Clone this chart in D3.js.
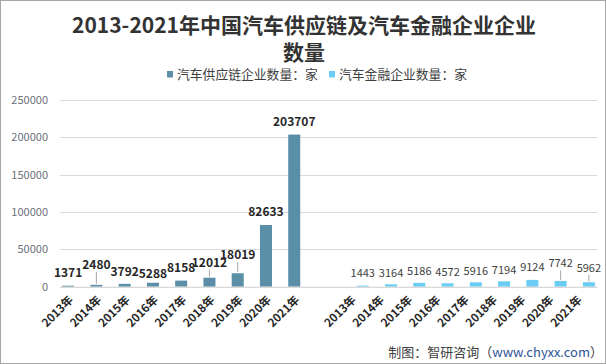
<!DOCTYPE html>
<html><head><meta charset="utf-8">
<script src="https://cdn.jsdelivr.net/npm/d3@7"></script>
<style>
html,body{margin:0;padding:0;background:#fff;}
text{font-family:"Noto Sans CJK SC","Noto Sans",sans-serif;}
</style></head>
<body><svg id="c" width="606" height="364"></svg>
<script>
const years = ["2013年","2014年","2015年","2016年","2017年","2018年","2019年","2020年","2021年"];
const supplyChain = [1371,2480,3792,5288,8158,12012,18019,82633,203707];
const autoFinance = [1443,3164,5186,4572,5916,7194,9124,7742,5962];
const seriesNames = ["汽车供应链企业数量：家","汽车金融企业数量：家"];
const yTicks = [0,50000,100000,150000,200000,250000];
const titleLines = ["2013-2021年中国汽车供应链及汽车金融企业企业","数量"];
const colors = ["#5B8FA8","#6BCDF4"];
// label placement tweaks (pixels lifted above default spot), like the moved labels in the original
const labelLift = [[0,7,-1,-4,0,2,5,0,0],[0,-1,-1,-1,-1,-1,0,5,2]];

const cats = [];
years.forEach((y,i)=>cats.push({key:"a"+i,label:y,s:0,i:i,v:supplyChain[i]}));
cats.push({key:"gap",label:"",s:-1,v:null});
years.forEach((y,i)=>cats.push({key:"b"+i,label:y,s:1,i:i,v:autoFinance[i]}));

const svg = d3.select("#c");
svg.append("rect").attr("x",0.5).attr("y",0.5).attr("width",605).attr("height",363)
  .attr("fill","#fff").attr("stroke","#a6a6a6").attr("stroke-width",1);

const L=60,R=597,T=100,B=286.7;
const x0 = d3.scaleBand().domain(cats.map(d=>d.key)).range([L,R]).paddingInner(0.15).paddingOuter(0.075);
const x1 = d3.scaleBand().domain([0,1]).range([0,x0.bandwidth()]);
const y = d3.scaleLinear().domain([0,250000]).range([B,T]);

svg.append("g").selectAll("line").data(yTicks).join("line")
  .attr("x1",L).attr("x2",R).attr("y1",d=>Math.round(y(d))+0.5).attr("y2",d=>Math.round(y(d))+0.5)
  .attr("stroke","#d9d9d9").attr("stroke-width",1);

const yAxis = d3.axisLeft(y).tickValues(yTicks).tickSize(0).tickPadding(0).tickFormat(d3.format("d"));
const ga = svg.append("g").attr("transform",`translate(${L-12},0)`).call(yAxis);
ga.select(".domain").remove();
ga.selectAll("text").attr("font-size",11).attr("fill","#6b6f7a").style("font-family","'Noto Sans CJK SC',sans-serif");

const barCats = cats.filter(d=>d.s>=0);
svg.append("g").selectAll("rect").data(barCats).join("rect")
  .attr("x",d=>x0(d.key)+x1(d.s)).attr("width",x1.bandwidth())
  .attr("y",d=>y(d.v)).attr("height",d=>B-y(d.v))
  .attr("fill",d=>colors[d.s]);

const cx = d=>x0(d.key)+x1(d.s)+x1.bandwidth()/2;
const ly = d=>y(d.v)-(d.s===0?13:12.5)-labelLift[d.s][d.i];

svg.append("g").selectAll("line").data(barCats.filter(d=>labelLift[d.s][d.i]>=2)).join("line")
  .attr("x1",cx).attr("x2",cx)
  .attr("y1",d=>ly(d)+7).attr("y2",d=>y(d.v)-1)
  .attr("stroke","#a6a6a6").attr("stroke-width",1);

svg.append("g").selectAll("text").data(barCats).join("text")
  .attr("x",cx)
  .attr("y",ly)
  .attr("dy","0.35em")
  .attr("text-anchor","middle")
  .attr("font-size",d=>d.s===0?12:11)
  .attr("font-weight",d=>d.s===0?"bold":"normal")
  .attr("fill",d=>d.s===0?"#262626":"#404040")
  .text(d=>d.v);

const xAxis = d3.axisBottom(x0).tickSize(0).tickFormat(k=>cats.find(c=>c.key===k).label);
const gx = svg.append("g").attr("transform",`translate(0,${B})`).call(xAxis);
gx.select(".domain").attr("stroke","#d9d9d9");
gx.selectAll(".tick text")
  .attr("font-size",11.5).attr("font-weight","bold").attr("fill","#262626")
  .style("font-family","'Noto Sans CJK SC',sans-serif")
  .attr("text-anchor","end").attr("y",0).attr("dy","0.35em")
  .attr("transform","translate(-3,11) rotate(-45)");

svg.append("g").selectAll("text").data(titleLines).join("text")
  .attr("x",304).attr("y",(d,i)=>32.5+i*27)
  .attr("text-anchor","middle").attr("font-size",21).attr("font-weight","bold").attr("fill","#333")
  .text(d=>d);

const lg = svg.append("g");
const lx=[167,329];
seriesNames.forEach((n,i)=>{
  lg.append("rect").attr("x",lx[i]).attr("y",71).attr("width",6).attr("height",6.5).attr("fill",colors[i]);
  lg.append("text").attr("x",lx[i]+10).attr("y",78.5).attr("font-size",12.8).attr("fill","#404040").text(n);
});

const ft = svg.append("text").attr("x",603).attr("y",357).attr("text-anchor","end").attr("font-size",13);
ft.append("tspan").attr("fill","#404040").text("制图：智研咨询（");
ft.append("tspan").attr("fill","#2f5597").text("www.chyxx.com");
ft.append("tspan").attr("fill","#404040").text("）");
</script></body></html>
